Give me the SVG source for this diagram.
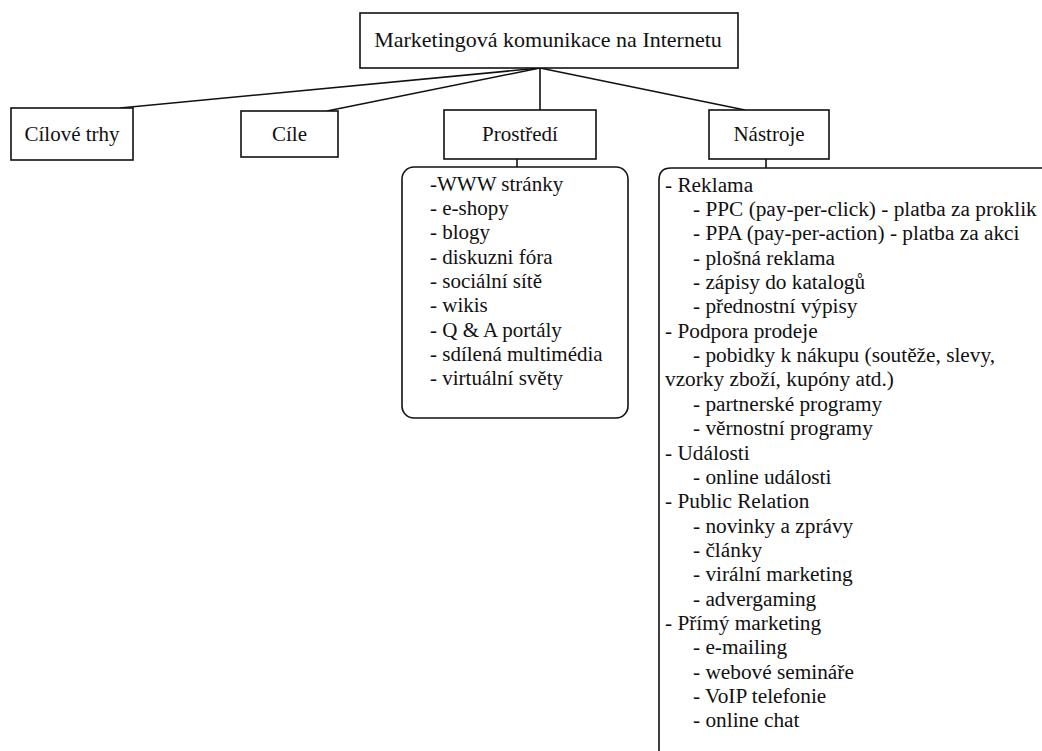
<svg xmlns="http://www.w3.org/2000/svg" width="1042" height="751" viewBox="0 0 1042 751">
<style>
.box{fill:#fff;stroke:#111;stroke-width:1.6}
.ln{stroke:#111;stroke-width:1.6;fill:none}
text{fill:#111}
</style>
<rect width="1042" height="751" fill="#fff"/>
<g id="connectors">
<line class="ln" x1="540" y1="68" x2="120" y2="108"/>
<line class="ln" x1="540" y1="68" x2="327" y2="111"/>
<line class="ln" x1="540" y1="68" x2="540" y2="110"/>
<line class="ln" x1="540" y1="68" x2="745" y2="110"/>
<line class="ln" x1="517" y1="159" x2="517" y2="167"/>
<line class="ln" x1="766" y1="159" x2="766" y2="168"/>
</g>
<g font-family="Liberation Serif, Times New Roman, serif" font-size="21">
<g id="root">
<rect class="box" x="360" y="13" width="378" height="55"/>
<text x="548" y="47" text-anchor="middle" font-size="22">Marketingová komunikace na Internetu</text>
</g>
<g id="cilove-trhy">
<rect class="box" x="11" y="108" width="122" height="52"/>
<text x="72" y="141" text-anchor="middle">Cílové trhy</text>
</g>
<g id="cile">
<rect class="box" x="241" y="111" width="97" height="46"/>
<text x="289.5" y="141" text-anchor="middle">Cíle</text>
</g>
<g id="prostredi">
<rect class="box" x="444" y="110" width="152" height="49"/>
<text x="520" y="141" text-anchor="middle">Prostředí</text>
</g>
<g id="nastroje">
<rect class="box" x="709" y="110" width="120" height="49"/>
<text x="769" y="141" text-anchor="middle">Nástroje</text>
</g>
<g id="prostredi-list">
<rect class="box" x="402" y="167" width="226" height="251" rx="12" ry="12"/>
<text x="430" y="191">-WWW stránky</text>
<text x="430" y="215">- e-shopy</text>
<text x="430" y="239">- blogy</text>
<text x="430" y="264">- diskuzni fóra</text>
<text x="430" y="288">- sociální sítě</text>
<text x="430" y="312">- wikis</text>
<text x="430" y="337">- Q &amp; A portály</text>
<text x="430" y="361">- sdílená multimédia</text>
<text x="430" y="385">- virtuální světy</text>
</g>
<g id="nastroje-list" font-size="21.3">
<path class="ln" d="M659,751 L659,180 Q659,168 671,168 L1050,168"/>
<text x="665" y="192">- Reklama</text>
<text x="693" y="216">- PPC (pay-per-click) - platba za proklik</text>
<text x="693" y="240">- PPA (pay-per-action) - platba za akci</text>
<text x="693" y="265">- plošná reklama</text>
<text x="693" y="289">- zápisy do katalogů</text>
<text x="693" y="313">- přednostní výpisy</text>
<text x="665" y="338">- Podpora prodeje</text>
<text x="693" y="362">- pobidky k nákupu (soutěže, slevy,</text>
<text x="665" y="386">vzorky zboží, kupóny atd.)</text>
<text x="693" y="411">- partnerské programy</text>
<text x="693" y="435">- věrnostní programy</text>
<text x="665" y="460">- Události</text>
<text x="693" y="484">- online události</text>
<text x="665" y="508">- Public Relation</text>
<text x="693" y="533">- novinky a zprávy</text>
<text x="693" y="557">- články</text>
<text x="693" y="581">- virální marketing</text>
<text x="693" y="606">- advergaming</text>
<text x="665" y="630">- Přímý marketing</text>
<text x="693" y="654">- e-mailing</text>
<text x="693" y="679">- webové semináře</text>
<text x="693" y="703">- VoIP telefonie</text>
<text x="693" y="727">- online chat</text>
</g>
</g>
</svg>
